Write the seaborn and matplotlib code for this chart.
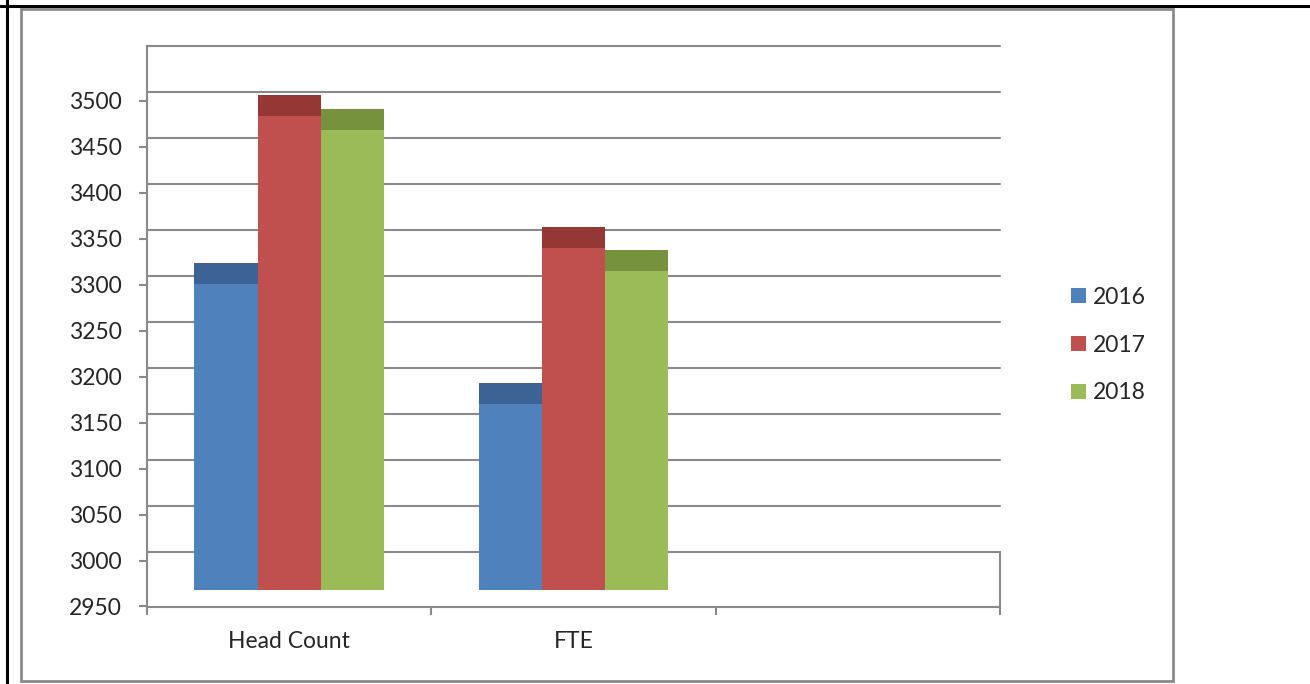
import numpy as np
import pandas as pd
import seaborn as sns
import matplotlib.pyplot as plt
from matplotlib.patches import Patch, Rectangle
from matplotlib.lines import Line2D

# Dados (topo das barras)
categorias = ['Head Count', 'FTE']
anos = ['2016', '2017', '2018']
head_count = [3324, 3506, 3491]
fte = [3193, 3363, 3338]
y_ticks = list(range(2950, 3501, 50))

cores = ['#4F81BD', '#C0504D', '#9BBB59']
cores_topo = ['#3C6393', '#953735', '#77923D']
cinza = '#8a8a8a'
topo_3d = 23      # profundidade do "topo" 3D (em unidades do eixo)
base_barras = 2968  # as barras assentam no chão
desvio_grelha = 9.2  # grelha na parede do fundo

df = pd.DataFrame({
    'categoria': np.repeat(categorias, len(anos)),
    'ano': anos * len(categorias),
    'valor': head_count + fte,
})
df['frente'] = df['valor'] - topo_3d

sns.set_style('white')
plt.rcParams['font.family'] = ['Lato', 'DejaVu Sans']

fig = plt.figure(figsize=(13.1, 6.84), dpi=100)
ax = fig.add_axes([147 / 1310, 1 - 606.5 / 684, 853 / 1310, (606.5 - 46) / 684])

ordem = categorias + ['']
sns.barplot(data=df, x='categoria', y='valor', hue='ano', order=ordem,
            palette=cores_topo, saturation=1, width=0.667, linewidth=0,
            legend=False, zorder=1, ax=ax)
sns.barplot(data=df, x='categoria', y='frente', hue='ano', order=ordem,
            palette=cores, saturation=1, width=0.667, linewidth=0,
            legend=False, zorder=1.1, ax=ax)

ax.set_ylim(2950, 3559.5)
ax.set_xlim(-0.5, 2.5)

# chão branco por baixo das barras
ax.axhspan(2950, base_barras, color='white', zorder=1.5, lw=0)

# grelha na parede do fundo
for v in range(3000, 3551, 50):
    ax.axhline(v + desvio_grelha, color=cinza, lw=1.5, zorder=0.5, clip_on=False)
ax.plot([2.5, 2.5], [2950, 3000 + desvio_grelha], color=cinza, lw=1.5,
        clip_on=False, zorder=3)

for s in ['top', 'right']:
    ax.spines[s].set_visible(False)
for s in ['left', 'bottom']:
    ax.spines[s].set_color(cinza)
    ax.spines[s].set_linewidth(1.5)

ax.set_yticks(y_ticks)
ax.set_yticklabels([str(t) for t in y_ticks])
ax.tick_params(axis='y', direction='out', length=6, width=1.5, color=cinza,
               pad=12, labelsize=16.5, left=True)
ax.set_xticks([0, 1, 2])
ax.set_xticklabels(ordem)
ax.set_xticks([-0.5, 0.5, 1.5, 2.5], minor=True)
ax.tick_params(axis='x', which='major', length=0, pad=18, labelsize=16.5)
ax.tick_params(axis='x', which='minor', direction='out', length=6, width=1.5,
               color=cinza, bottom=True)
ax.set_xlabel('')
ax.set_ylabel('')

# legenda
handles = [Patch(facecolor=c, edgecolor='none') for c in cores]
fig.legend(handles, anos, loc='center left', frameon=False,
           bbox_to_anchor=(1071 / 1310, 1 - 345 / 684), fontsize=16.5,
           handlelength=0.65, handleheight=0.65, handletextpad=0.3,
           labelspacing=1.17, borderpad=0, borderaxespad=0)

# moldura da área do gráfico e borda da tabela
fig.add_artist(Rectangle((21 / 1310, 1 - 681 / 684), (1173 - 21) / 1310,
                         (681 - 9) / 684, transform=fig.transFigure,
                         fill=False, edgecolor=cinza, lw=2))
fig.add_artist(Line2D([0, 1], [1 - 5.5 / 684] * 2, transform=fig.transFigure,
                      color='black', lw=2.2))
fig.add_artist(Line2D([6.5 / 1310] * 2, [0, 1], transform=fig.transFigure,
                      color='black', lw=2.2))

fig.savefig('out.png', dpi=100)
